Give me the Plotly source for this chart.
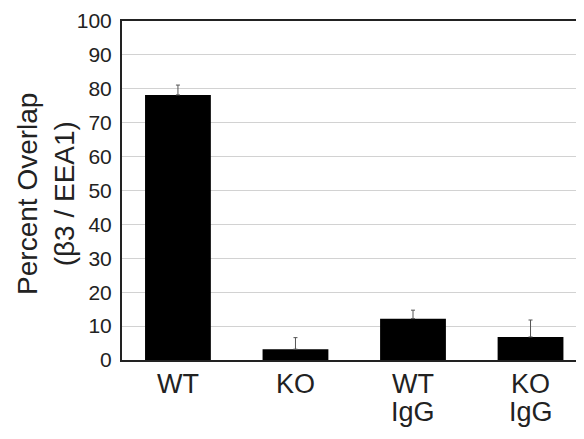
import plotly.graph_objects as go

categories = [0, 1, 2, 3]
label_line1 = ["WT", "KO", "WT", "KO"]
label_line2 = ["", "", "IgG", "IgG"]
values = [78.2, 3.2, 12.2, 6.8]
err_plus = [2.9, 3.4, 2.5, 5.0]
y_ticks = [0, 10, 20, 30, 40, 50, 60, 70, 80, 90, 100]
y_title = "Percent Overlap<br>(β3 / EEA1)"

FONT = "Liberation Sans, Arial, sans-serif"
TXT = "#222222"

# the page body has an 8px default margin, so plot margins are offset by it
fig = go.Figure()
fig.add_trace(go.Bar(
    x=categories, y=values, width=0.56,
    marker=dict(color="black", line=dict(width=0)),
    error_y=dict(type="data", symmetric=False, array=err_plus,
                 arrayminus=[0] * len(values),
                 color="#555555", thickness=1, width=2),
))

for xi, t1, t2 in zip(categories, label_line1, label_line2):
    fig.add_annotation(x=xi, y=0, xref="x", yref="paper", text=t1,
                       showarrow=False, yanchor="top", yshift=-7,
                       font=dict(family=FONT, size=27, color=TXT))
    if t2:
        fig.add_annotation(x=xi, y=0, xref="x", yref="paper", text=t2,
                           showarrow=False, yanchor="top", yshift=-35,
                           font=dict(family=FONT, size=27, color=TXT))

fig.add_annotation(x=-0.1645, y=0.49, xref="paper", yref="paper", text=y_title,
                   showarrow=False, textangle=-90, xanchor="center",
                   yanchor="middle",
                   font=dict(family=FONT, size=28, color=TXT))

fig.update_layout(
    width=584, height=439,
    margin=dict(l=114, r=8, t=13, b=87),
    paper_bgcolor="white", plot_bgcolor="white",
    showlegend=False,
    font=dict(family=FONT, color=TXT),
    xaxis=dict(range=[-0.476, 3.455], tickvals=categories,
               showticklabels=False, automargin=False,
               showline=True, linecolor=TXT, linewidth=2, mirror=True,
               showgrid=False, zeroline=False, ticks=""),
    yaxis=dict(range=[0, 100], tickvals=y_ticks, automargin=False,
               tickfont=dict(size=21, color=TXT),
               showline=True, linecolor=TXT, linewidth=2,
               showgrid=True, gridcolor="#d2d2d2", gridwidth=1,
               zeroline=False, ticks="", ticklabelstandoff=4),
)

fig.write_html("out.html")
